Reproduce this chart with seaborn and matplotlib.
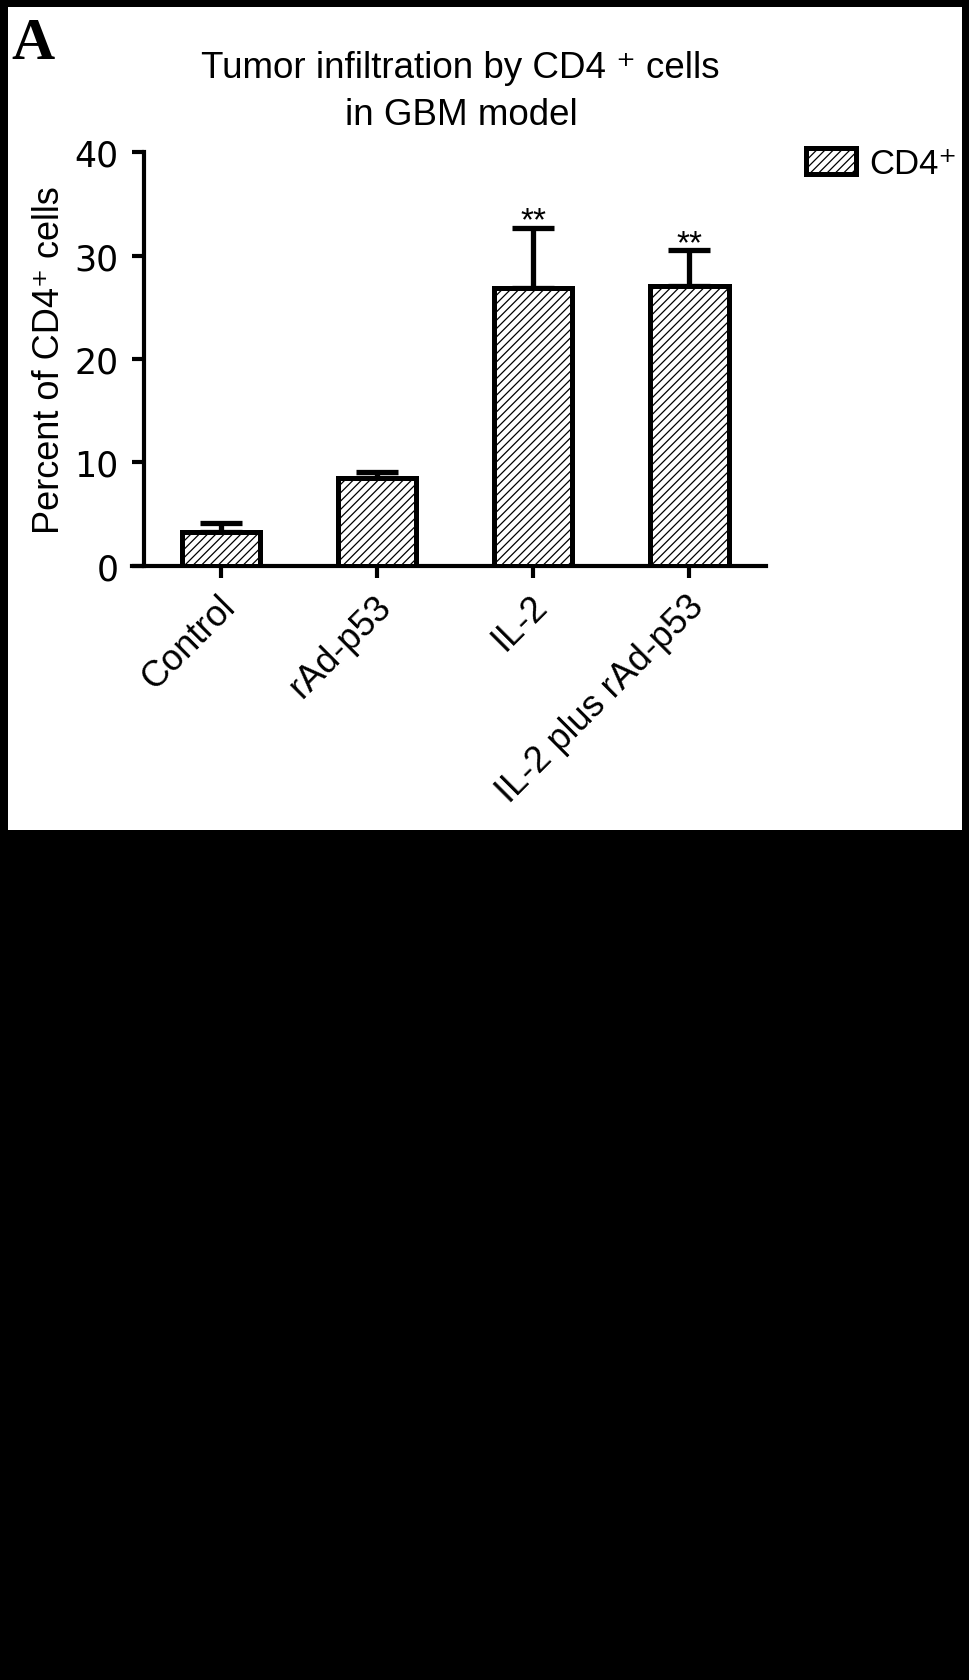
import numpy as np
import pandas as pd
import seaborn as sns
import matplotlib.pyplot as plt
import matplotlib.transforms as mtransforms
from matplotlib.patches import Rectangle, Patch

groups = ["Control", "rAd-p53", "IL-2", "IL-2 plus rAd-p53"]
means = [3.3, 8.5, 26.9, 27.1]
sem = [0.85, 0.55, 5.8, 3.4]
stars = ["", "", "**", "**"]

sns.set_style("ticks")
plt.rcParams['font.family'] = ['Liberation Sans', 'DejaVu Sans']
plt.rcParams['hatch.linewidth'] = 0.9
plt.rcParams['hatch.color'] = 'black'
plt.rcParams['text.color'] = 'black'

W, H = 969, 1681
fig = plt.figure(figsize=(W / 100, H / 100), dpi=100, facecolor='black')
# white panel on black page
fig.add_artist(Rectangle((8 / W, 1 - 831 / H), (962 - 8) / W, (831 - 8) / H,
                         transform=fig.transFigure, facecolor='white',
                         edgecolor='none', zorder=0))

ax = fig.add_axes([132 / W, 1 - 566.7 / H, 634 / W, 413.4 / H])
ax.set_facecolor('none')

df = pd.DataFrame({"group": groups, "mean": means})
sns.barplot(data=df, x="group", y="mean", color="white", saturation=1,
            edgecolor="black", linewidth=3.6, width=0.5, errorbar=None,
            ax=ax, zorder=3)
for bar in ax.patches:
    bar.set_hatch('////')

ax.errorbar(np.arange(len(groups)), means, yerr=[np.zeros(len(sem)), sem],
            fmt='none', ecolor='black', elinewidth=3.8, capsize=15,
            capthick=3.8, zorder=2)

for i, s in enumerate(stars):
    if s:
        ax.text(i, means[i] + sem[i] - 0.15, s, ha='center', va='baseline',
                fontsize=24, color='black')

ax.set_xlim(-0.57, 3.49)
ax.set_ylim(0, 40)
ax.set_yticks([0, 10, 20, 30, 40])
sns.despine(ax=ax)
ax.spines['left'].set_position(('data', -0.49))
ax.spines['left'].set_bounds(0, 40)
for sp in ['left', 'bottom']:
    ax.spines[sp].set_linewidth(3.0)
    ax.spines[sp].set_color('black')
ax.tick_params(axis='both', direction='out', length=8.6, width=3.0,
               colors='black')
ax.tick_params(axis='y', labelsize=25, pad=10)
ax.tick_params(axis='x', labelsize=26, pad=16.5)
for lab in ax.get_yticklabels():
    lab.set_family(['DejaVu Sans'])
ax.set_xlabel("")
ax.set_ylabel("Percent of CD4⁺ cells", fontsize=26, color='black')
ax.yaxis.set_label_coords(-0.1025, 0.5)
shift = mtransforms.ScaledTranslation(0.09, 0, fig.dpi_scale_trans)
for lab in ax.get_xticklabels():
    lab.set_rotation(45)
    lab.set_ha('right')
    lab.set_va('center')
    lab.set_rotation_mode('anchor')
    lab.set_transform(lab.get_transform() + shift)

fig.text(460 / W, 1 - 78 / H, "Tumor infiltration by CD4 ⁺ cells",
         ha='center', va='baseline', fontsize=26.5, color='black')
fig.text(461 / W, 1 - 125 / H, "in GBM model",
         ha='center', va='baseline', fontsize=26.5, color='black')
fig.text(11 / W, 1 - 18 / H, "A", family='Liberation Serif', weight='bold',
         fontsize=43, ha='left', va='top', color='black')

handle = Patch(facecolor='white', edgecolor='black', hatch='////', linewidth=3.6)
fig.legend(handles=[handle], labels=["CD4⁺"], loc='upper left',
           bbox_to_anchor=(806 / W, 1 - 148 / H), frameon=False, fontsize=25,
           labelcolor='black', handlelength=1.44, handleheight=0.8,
           handletextpad=0.37, borderpad=0, borderaxespad=0)

fig.savefig("out.png", dpi=100, facecolor='black')
